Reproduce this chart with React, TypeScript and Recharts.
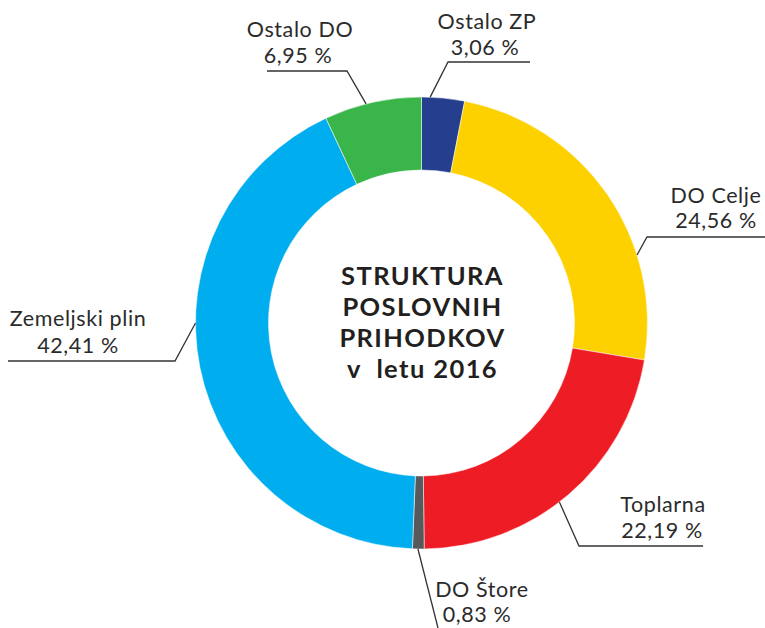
import React from 'react';
import { PieChart, Pie, Cell } from 'recharts';

// slices, clockwise from 12 o'clock
const names = ['Ostalo ZP', 'DO Celje', 'Toplarna', 'DO Štore', 'Zemeljski plin', 'Ostalo DO'];
const shares = [3.06, 24.56, 22.19, 0.83, 42.41, 6.95];
const colors = ['#253f8e', '#fdd000', '#ee1c25', '#58595b', '#00aeef', '#39b54a'];
const titleLines = ['STRUKTURA', 'POSLOVNIH', 'PRIHODKOV', 'v  letu 2016'];

const data = names.map((name, i) => ({ name, value: shares[i] }));

// label placement: angle where the leader leaves the ring, elbow, underline end, text lines
const labelLayout = [
  { angle: 87.8, elbow: [448, 62], end: 530, tx: [487, 485], ty: [29, 55] },
  { angle: 17.5, elbow: [647, 237], end: 765, tx: [716, 716], ty: [203, 228] },
  { angle: -52.4, elbow: [579, 546], end: 703, tx: [663, 662], ty: [512, 538] },
  { angle: -90.9, elbow: [438, 628], end: 438, tx: [482, 477], ty: [597, 622] },
  { angle: 180, elbow: [175, 361], end: 8, tx: [78, 78], ty: [326, 353] },
  { angle: 104.2, elbow: [347, 71], end: 267, tx: [300, 298], ty: [37, 63] },
];

const fmt = (v: number) => v.toFixed(2).replace('.', ',') + ' %';

const labelText = { fill: '#2b2b2b', fontSize: 21.5, fontFamily: 'Lato', letterSpacing: 0.6 };

const renderLabel = (props: any) => {
  const { cx, cy, outerRadius, index } = props;
  const l = labelLayout[index];
  const rad = (l.angle * Math.PI) / 180;
  const sx = cx + outerRadius * Math.cos(rad);
  const sy = cy - outerRadius * Math.sin(rad);
  return (
    <g key={'lbl' + index}>
      <polyline
        points={`${sx},${sy} ${l.elbow[0]},${l.elbow[1]} ${l.end},${l.elbow[1]}`}
        fill="none"
        stroke="#333"
        strokeWidth={1.3}
      />
      <text x={l.tx[0]} y={l.ty[0]} textAnchor="middle" {...labelText}>
        {names[index]}
      </text>
      <text x={l.tx[1]} y={l.ty[1]} textAnchor="middle" {...labelText}>
        {fmt(shares[index])}
      </text>
      {index === 0 &&
        titleLines.map((t, k) => (
          <text
            key={t}
            x={cx + 1}
            y={cy - 38 + k * 31}
            textAnchor="middle"
            fill="#231f20"
            fontSize={25.5}
            fontWeight="bold"
            fontFamily="Lato"
            letterSpacing={1.4}
            style={{ whiteSpace: 'pre' }}
          >
            {t}
          </text>
        ))}
    </g>
  );
};

export default function App() {
  return (
    <div style={{ position: 'absolute', left: 0, top: 0, background: '#fff' }}>
      <PieChart width={765} height={628} margin={{ top: 0, right: 0, bottom: 0, left: 0 }}>
        <Pie
          data={data}
          dataKey="value"
          nameKey="name"
          cx={421.5}
          cy={323}
          innerRadius={153}
          outerRadius={226}
          startAngle={90}
          endAngle={-270}
          stroke="#fff"
          strokeWidth={0.5}
          label={renderLabel}
          labelLine={false}
          isAnimationActive={false}
        >
          {data.map((d, i) => (
            <Cell key={d.name} fill={colors[i]} />
          ))}
        </Pie>
      </PieChart>
    </div>
  );
}
